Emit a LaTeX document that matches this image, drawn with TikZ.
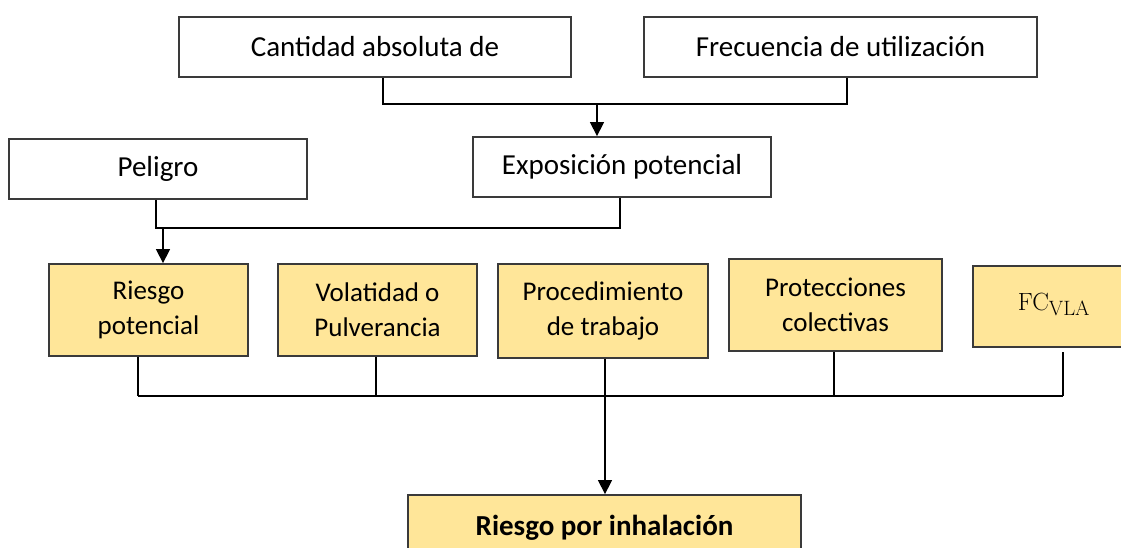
\documentclass[tikz,border=0pt]{standalone}
\usepackage[no-math]{fontspec}
\setmainfont{Carlito}
\usetikzlibrary{arrows.meta}
\definecolor{boxyellow}{HTML}{FFE699}
\definecolor{boxline}{HTML}{3A3A3A}
\begin{document}
\begin{tikzpicture}[x=1pt,y=-1pt,
  wbox/.style={draw=boxline, line width=1.8pt, fill=white, inner sep=0pt,
    font=\fontsize{29}{34}\selectfont},
  ybox/.style={draw=boxline, line width=1.8pt, fill=boxyellow, inner sep=0pt,
    align=center, font=\fontsize{27}{35}\selectfont},
  conn/.style={line width=1.4pt, black},
  arr/.style={conn, -{Triangle[length=14pt,width=14pt]}}]
\useasboundingbox (0,0) rectangle (1121,548);

% top row
\node[wbox, minimum width=392pt, minimum height=60pt] (cant) at (375,47) {Cantidad absoluta de};
\node[wbox, minimum width=393pt, minimum height=60pt] (frec) at (840.5,47) {Frecuencia de utilización};
% second row
\node[wbox, minimum width=298pt, minimum height=60pt] (pel) at (158,169) {Peligro};
\node[wbox, minimum width=298pt, minimum height=60pt] (expo) at (622,167) {Exposición potencial};
% yellow row
\node[ybox, minimum width=199pt, minimum height=92pt] (rp) at (148.5,310) {Riesgo\\potencial};
\node[ybox, minimum width=199pt, minimum height=92pt] (vol) at (377.5,310) {Volatidad o\\Pulverancia};
\node[ybox, minimum width=210pt, minimum height=94pt] (proc) at (603,311) {Procedimiento\\de trabajo};
\node[ybox, minimum width=213pt, minimum height=92pt] (prot) at (835.5,305) {Protecciones\\colectivas};
\node[ybox, minimum width=162pt, minimum height=81pt, font=\fontsize{29}{32}\selectfont] (fc) at (1054,306.5) {$\mathrm{FC}_{\mathrm{VLA}}$\rule[-10pt]{0pt}{1pt}};
% result
\node[ybox, minimum width=393pt, minimum height=66pt, font=\fontsize{29}{34}\selectfont\bfseries] (inh) at (604.5,528) {Riesgo por inhalación};

% connectors top
\coordinate (hL) at (383,104);
\coordinate (hR) at (847,104);
\coordinate (a1) at (597,104);
\draw[conn] (cant.south -| hL) -- (hL) -- (hR) -- (frec.south -| hR);
\draw[arr] (a1) -- (a1 |- expo.north);

% connectors second
\coordinate (gL) at (156,228);
\coordinate (gR) at (620,228);
\coordinate (a2) at (163,228);
\draw[conn] (pel.south -| gL) -- (gL) -- (gR) -- (expo.south -| gR);
\draw[arr] (a2) -- (a2 |- rp.north);

% connectors bottom
\coordinate (b1) at (138,396);
\coordinate (b2) at (376,396);
\coordinate (b3) at (605,396);
\coordinate (b4) at (834,396);
\coordinate (b5) at (1063,396);
\coordinate (fcs) at (1063,352);
\draw[conn] (b1) -- (b5);
\draw[conn] (rp.south -| b1) -- (b1);
\draw[conn] (vol.south -| b2) -- (b2);
\draw[conn] (prot.south -| b4) -- (b4);
\draw[conn] (fcs) -- (b5);
\draw[arr] (proc.south -| b3) -- (inh.north -| b3);
\end{tikzpicture}
\end{document}
